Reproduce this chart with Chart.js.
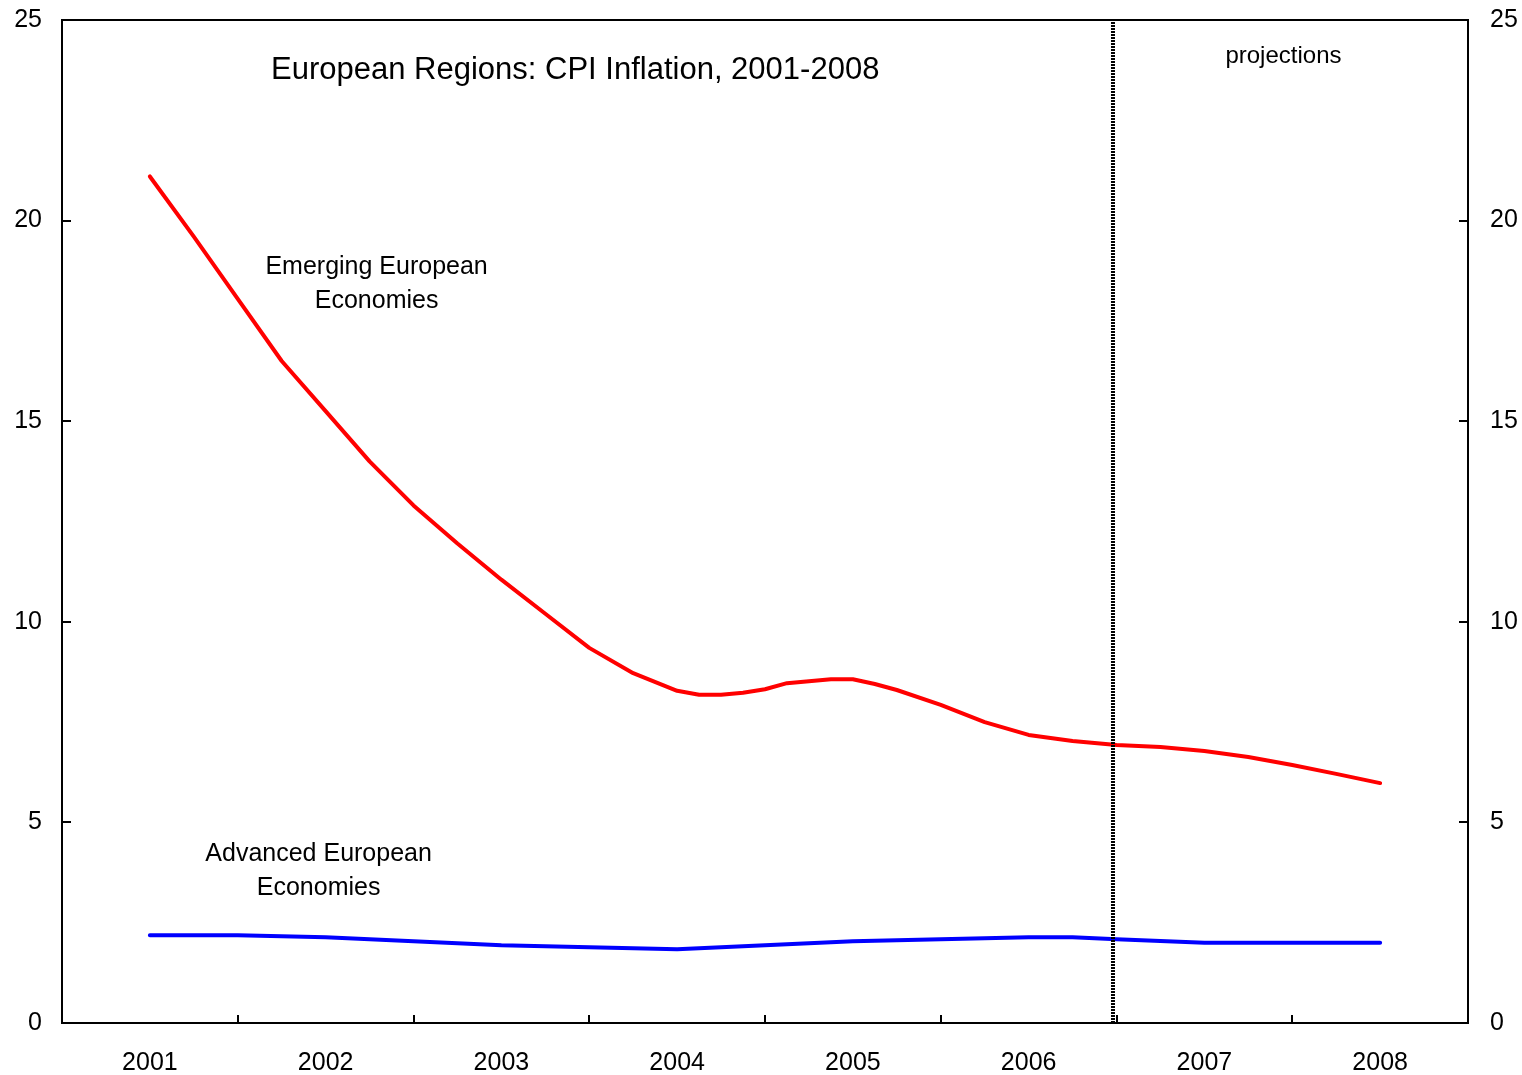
<!DOCTYPE html>
<html>
<head>
<meta charset="utf-8">
<script src="https://cdn.jsdelivr.net/npm/chart.js@4/dist/chart.umd.min.js"></script>
<style>
  html, body { margin: 0; padding: 0; background: #fff; }
  canvas { display: block; }
</style>
</head>
<body>
<canvas id="canvas" width="1522" height="1075"></canvas>
<script>
const FONT = "'Liberation Sans', Arial, sans-serif";

// x positions are fractional years
const emergingDates = [2001.0, 2001.25, 2001.5, 2001.75, 2002.0, 2002.25, 2002.5, 2002.75,
  2003.0, 2003.25, 2003.5, 2003.75, 2004.0, 2004.125, 2004.25, 2004.375, 2004.5, 2004.625,
  2004.875, 2005.0, 2005.125, 2005.25, 2005.5, 2005.75, 2006.0, 2006.25, 2006.5, 2006.75,
  2007.0, 2007.25, 2007.5, 2007.75, 2008.0];
const emergingValues = [21.1, 19.6, 18.05, 16.5, 15.25, 14.0, 12.9, 11.95,
  11.05, 10.2, 9.35, 8.72, 8.28, 8.18, 8.18, 8.23, 8.32, 8.47,
  8.57, 8.57, 8.45, 8.3, 7.93, 7.5, 7.18, 7.03, 6.93, 6.88,
  6.78, 6.63, 6.43, 6.21, 5.98];

const advancedDates = [2001.0, 2001.5, 2002.0, 2003.0, 2004.0, 2005.0, 2006.0, 2006.25, 2006.5, 2007.0, 2008.0];
const advancedValues = [2.19, 2.19, 2.14, 1.94, 1.84, 2.04, 2.14, 2.14, 2.09, 2.0, 2.0];

const projectionStart = 2006.48;
const yTicks = [0, 5, 10, 15, 20, 25];
const yearLabels = [2001, 2002, 2003, 2004, 2005, 2006, 2007, 2008];

const chartTitle = "European Regions: CPI Inflation, 2001-2008";
const notes = [
  { lines: ["projections"], x: 2007.45, y: 24.1, size: 24 },
  { lines: ["Emerging European", "Economies"], x: 2002.29, y: 18.85, size: 25 },
  { lines: ["Advanced European", "Economies"], x: 2001.96, y: 4.2, size: 25 },
];

const pairs = (xs, ys) => xs.map((x, i) => ({ x: x, y: ys[i] }));

// frame, inward tick marks and text notes
const decorations = {
  id: "decorations",
  afterDraw(chart) {
    const ctx = chart.ctx;
    const a = chart.chartArea;
    const x = chart.scales.x;
    const y = chart.scales.y;
    ctx.save();
    ctx.strokeStyle = "#000";
    ctx.lineWidth = 2;
    ctx.strokeRect(a.left, a.top, a.right - a.left, a.bottom - a.top);

    ctx.beginPath();
    yTicks.forEach((v) => {
      const py = Math.round(y.getPixelForValue(v));
      ctx.moveTo(a.left, py);
      ctx.lineTo(a.left + 9, py);
      ctx.moveTo(a.right, py);
      ctx.lineTo(a.right - 9, py);
    });
    yearLabels.slice(0, -1).forEach((yr) => {
      const px = Math.round(x.getPixelForValue(yr + 0.5));
      ctx.moveTo(px, a.bottom);
      ctx.lineTo(px, a.bottom - 8);
    });
    ctx.stroke();

    ctx.fillStyle = "#000";
    ctx.textAlign = "center";
    ctx.textBaseline = "middle";
    ctx.font = "31px " + FONT;
    ctx.fillText(chartTitle, x.getPixelForValue(2003.42), y.getPixelForValue(23.73));
    notes.forEach((n) => {
      ctx.font = n.size + "px " + FONT;
      const cx = x.getPixelForValue(n.x);
      const cy = y.getPixelForValue(n.y);
      n.lines.forEach((line, i) => ctx.fillText(line, cx, cy + i * 34));
    });
    ctx.restore();
  },
};

const tickFont = { family: FONT, size: 25 };

const fitY = (w) => (s) => {
  s.width = w;
  s.paddingTop = 0;
  s.paddingBottom = 0;
};

new Chart(document.getElementById("canvas"), {
  type: "line",
  data: {
    datasets: [
      {
        label: "projections",
        data: [{ x: projectionStart, y: 0 }, { x: projectionStart, y: 25 }],
        borderColor: "#000",
        borderWidth: 4,
        borderDash: [2, 1],
        borderCapStyle: "butt",
        pointRadius: 0,
        order: 0,
      },
      {
        label: "Emerging European Economies",
        data: pairs(emergingDates, emergingValues),
        borderColor: "#ff0000",
        borderWidth: 4,
        pointRadius: 0,
        tension: 0,
        order: 1,
      },
      {
        label: "Advanced European Economies",
        data: pairs(advancedDates, advancedValues),
        borderColor: "#0000ff",
        borderWidth: 4,
        pointRadius: 0,
        tension: 0,
        order: 1,
      },
    ],
  },
  options: {
    responsive: false,
    animation: false,
    devicePixelRatio: 1,
    layout: { padding: { top: 20, left: 0, right: 0, bottom: 0 } },
    plugins: { legend: { display: false }, tooltip: { enabled: false } },
    elements: { line: { borderJoinStyle: "round", borderCapStyle: "round" } },
    scales: {
      x: {
        type: "linear",
        min: 2000.5,
        max: 2008.5,
        grid: { display: false, drawTicks: false },
        border: { display: false },
        afterBuildTicks: (s) => { s.ticks = yearLabels.map((v) => ({ value: v })); },
        afterFit: (s) => { s.height = 52; s.paddingLeft = 0; s.paddingRight = 0; },
        ticks: {
          autoSkip: false,
          maxRotation: 0,
          padding: 25,
          color: "#000",
          font: tickFont,
          callback: (v) => String(v),
        },
      },
      y: {
        position: "left",
        min: 0,
        max: 25,
        grid: { display: false, drawTicks: false },
        border: { display: false },
        afterBuildTicks: (s) => { s.ticks = yTicks.map((v) => ({ value: v })); },
        afterFit: fitY(62),
        ticks: { padding: 20, color: "#000", font: tickFont },
      },
      y2: {
        position: "right",
        min: 0,
        max: 25,
        grid: { display: false, drawTicks: false },
        border: { display: false },
        afterBuildTicks: (s) => { s.ticks = yTicks.map((v) => ({ value: v })); },
        afterFit: fitY(54),
        ticks: { padding: 22, color: "#000", font: tickFont },
      },
    },
  },
  plugins: [decorations],
});
</script>
</body>
</html>
